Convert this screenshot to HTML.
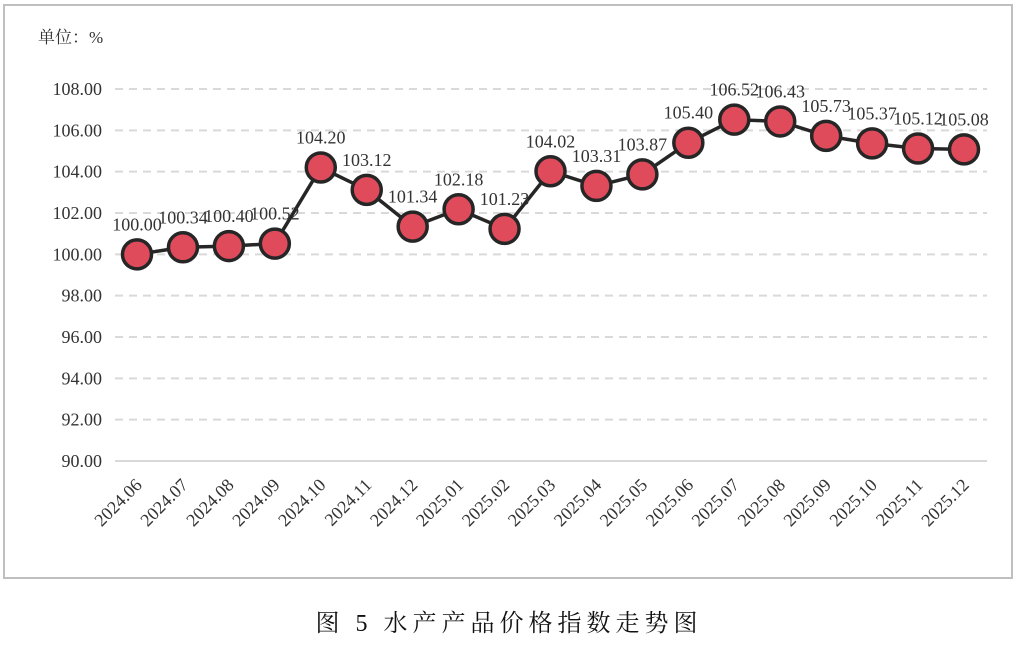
<!DOCTYPE html>
<html><head><meta charset="utf-8"><style>
body{margin:0;background:#fff;width:1019px;height:640px;overflow:hidden}
svg text{font-family:"Liberation Serif","Noto Serif CJK SC",serif}
</style></head><body>
<svg width="1019" height="640">
<rect x="4" y="5" width="1008" height="573" fill="#fff" stroke="#bfbfbf" stroke-width="2"/>
<text x="38" y="43" font-size="17" fill="#333">单位：%</text>
<g id="grid"></g><g id="yticks"></g><g id="xticks"></g><g id="series"></g>
<text x="509" y="631" font-size="24" fill="#111" text-anchor="middle" letter-spacing="5">图 5 水产产品价格指数走势图</text>
</svg>
<script>
const categories=["2024.06","2024.07","2024.08","2024.09","2024.10","2024.11","2024.12","2025.01","2025.02","2025.03","2025.04","2025.05","2025.06","2025.07","2025.08","2025.09","2025.10","2025.11","2025.12"];
const values=[100.00,100.34,100.40,100.52,104.20,103.12,101.34,102.18,101.23,104.02,103.31,103.87,105.40,106.52,106.43,105.73,105.37,105.12,105.08];
const yTicks=[90,92,94,96,98,100,102,104,106,108];
const NS="http://www.w3.org/2000/svg";
const yS=v=>461-(v-90)*(461-89)/18;
const xS=i=>137+i*(964-137)/18;
function mk(t,a,p){const e=document.createElementNS(NS,t);for(const k in a)e.setAttribute(k,a[k]);p.appendChild(e);return e;}
const grid=document.getElementById('grid'),yt=document.getElementById('yticks'),xt=document.getElementById('xticks'),sr=document.getElementById('series');
yTicks.forEach(v=>{
 const l=mk('line',{x1:115,x2:987,y1:yS(v),y2:yS(v),stroke:'#d9d9d9','stroke-width':2,'stroke-dasharray':v===90?'none':'8,6'},grid);
 
 
 const t=mk('text',{x:102,y:yS(v)+6,'font-size':18,fill:'#333','text-anchor':'end'},yt);
 t.textContent=v.toFixed(2);
 
 
});
categories.forEach((c,i)=>{
 const x=xS(i)+6,y=486;
 const t=mk('text',{x:x,y:y,'font-size':18,fill:'#333','text-anchor':'end',transform:`rotate(-45 ${x} ${y})`},xt);
 t.textContent=c;
 
 
});
const pl=mk('polyline',{points:values.map((v,i)=>xS(i)+','+yS(v)).join(' '),fill:'none',stroke:'#262626','stroke-width':3.5},sr);


values.forEach((v,i)=>{
 const c=mk('circle',{cx:xS(i),cy:yS(v),r:14.5,fill:'#e04b5c',stroke:'#262626','stroke-width':3.5},sr);
 
 
 const t=mk('text',{x:xS(i),y:yS(v)-24,'font-size':18,fill:'#333','text-anchor':'middle'},sr);
 t.textContent=v.toFixed(2);
 
 
});
</script>
</body></html>
